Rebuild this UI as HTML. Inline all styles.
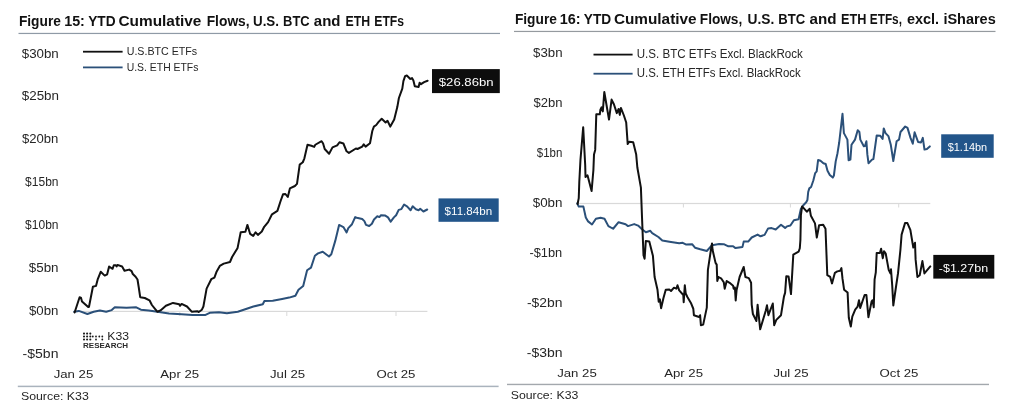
<!DOCTYPE html>
<html><head><meta charset="utf-8">
<style>
html,body{margin:0;padding:0;background:#fff;}
body{width:1024px;height:405px;overflow:hidden;}
svg{display:block;will-change:transform;font-family:"Liberation Sans", sans-serif;}
</style></head>
<body>
<svg width="1024" height="405" viewBox="0 0 1024 405">
<rect x="0" y="0" width="1024" height="405" fill="#fff"/>
<text transform="translate(18.90,25.60) scale(0.9820,0.9976)" font-size="14" font-weight="bold" fill="#111111">Figure</text>
<text transform="translate(64.20,25.60) scale(1.0232,0.9976)" font-size="14" font-weight="bold" fill="#111111">15:</text>
<text transform="translate(88.20,25.60) scale(0.9786,0.9976)" font-size="14" font-weight="bold" fill="#111111">YTD</text>
<text transform="translate(118.50,25.60) scale(1.0999,0.9976)" font-size="14" font-weight="bold" fill="#111111">Cumulative</text>
<text transform="translate(206.70,25.60) scale(0.9853,0.9976)" font-size="14" font-weight="bold" fill="#111111">Flows,</text>
<text transform="translate(253.00,25.60) scale(0.9548,0.9976)" font-size="14" font-weight="bold" fill="#111111">U.S.</text>
<text transform="translate(283.10,25.60) scale(0.9246,0.9976)" font-size="14" font-weight="bold" fill="#111111">BTC</text>
<text transform="translate(313.80,25.60) scale(1.0714,0.9976)" font-size="14" font-weight="bold" fill="#111111">and</text>
<text transform="translate(345.60,25.60) scale(0.8786,0.9976)" font-size="14" font-weight="bold" fill="#111111">ETH</text>
<text transform="translate(374.30,25.60) scale(0.8706,0.9976)" font-size="14" font-weight="bold" fill="#111111">ETFs</text>
<text transform="translate(514.90,23.75) scale(0.9820,1.0176)" font-size="14" font-weight="bold" fill="#111111">Figure</text>
<text transform="translate(559.80,23.75) scale(1.0331,1.0176)" font-size="14" font-weight="bold" fill="#111111">16:</text>
<text transform="translate(583.80,23.75) scale(0.9786,1.0176)" font-size="14" font-weight="bold" fill="#111111">YTD</text>
<text transform="translate(613.90,23.75) scale(1.0959,1.0176)" font-size="14" font-weight="bold" fill="#111111">Cumulative</text>
<text transform="translate(699.80,23.75) scale(0.9761,1.0176)" font-size="14" font-weight="bold" fill="#111111">Flows,</text>
<text transform="translate(747.60,23.75) scale(0.9842,1.0176)" font-size="14" font-weight="bold" fill="#111111">U.S.</text>
<text transform="translate(778.30,23.75) scale(0.9350,1.0176)" font-size="14" font-weight="bold" fill="#111111">BTC</text>
<text transform="translate(809.50,23.75) scale(1.0835,1.0176)" font-size="14" font-weight="bold" fill="#111111">and</text>
<text transform="translate(841.00,23.75) scale(0.9071,1.0176)" font-size="14" font-weight="bold" fill="#111111">ETH</text>
<text transform="translate(869.80,23.75) scale(0.8440,1.0176)" font-size="14" font-weight="bold" fill="#111111">ETFs,</text>
<text transform="translate(906.90,23.75) scale(1.0337,1.0176)" font-size="14" font-weight="bold" fill="#111111">excl.</text>
<text transform="translate(943.40,23.75) scale(1.0354,1.0176)" font-size="14" font-weight="bold" fill="#111111">iShares</text>
<rect x="18.5" y="32.85" width="481.5" height="1.2" fill="#8f9aa6"/>
<rect x="514" y="30.85" width="481.5" height="1.2" fill="#959a9f"/>
<text transform="translate(21.75,57.60) scale(1.1106,0.9893)" font-size="12" font-weight="normal" fill="#262626">$30bn</text>
<text transform="translate(21.75,100.46) scale(1.1166,0.9893)" font-size="12" font-weight="normal" fill="#262626">$25bn</text>
<text transform="translate(21.90,143.32) scale(1.0941,0.9893)" font-size="12" font-weight="normal" fill="#262626">$20bn</text>
<text transform="translate(25.10,186.18) scale(1.0012,0.9893)" font-size="12" font-weight="normal" fill="#262626">$15bn</text>
<text transform="translate(25.10,229.04) scale(1.0012,0.9893)" font-size="12" font-weight="normal" fill="#262626">$10bn</text>
<text transform="translate(28.80,271.90) scale(1.1161,0.9893)" font-size="12" font-weight="normal" fill="#262626">$5bn</text>
<text transform="translate(29.00,314.76) scale(1.1049,0.9893)" font-size="12" font-weight="normal" fill="#262626">$0bn</text>
<text transform="translate(22.60,357.62) scale(1.1686,0.9893)" font-size="12" font-weight="normal" fill="#262626">-$5bn</text>
<text transform="translate(533.10,56.90) scale(1.1049,0.9893)" font-size="12" font-weight="normal" fill="#262626">$3bn</text>
<text transform="translate(533.60,106.92) scale(1.0861,0.9893)" font-size="12" font-weight="normal" fill="#262626">$2bn</text>
<text transform="translate(536.80,156.94) scale(0.9551,0.9893)" font-size="12" font-weight="normal" fill="#262626">$1bn</text>
<text transform="translate(532.70,206.96) scale(1.1161,0.9893)" font-size="12" font-weight="normal" fill="#262626">$0bn</text>
<text transform="translate(529.40,256.98) scale(1.0710,0.9893)" font-size="12" font-weight="normal" fill="#262626">-$1bn</text>
<text transform="translate(526.90,307.00) scale(1.1589,0.9893)" font-size="12" font-weight="normal" fill="#262626">-$2bn</text>
<text transform="translate(526.80,357.02) scale(1.1654,0.9893)" font-size="12" font-weight="normal" fill="#262626">-$3bn</text>
<text transform="translate(53.67,377.90) scale(1.1000,0.9660)" font-size="12" font-weight="normal" fill="#262626">Jan 25</text>
<text transform="translate(160.26,377.90) scale(1.1000,0.9660)" font-size="12" font-weight="normal" fill="#262626">Apr 25</text>
<text transform="translate(269.98,377.90) scale(1.1000,0.9660)" font-size="12" font-weight="normal" fill="#262626">Jul 25</text>
<text transform="translate(376.56,377.90) scale(1.1000,0.9660)" font-size="12" font-weight="normal" fill="#262626">Oct 25</text>
<text transform="translate(557.17,376.90) scale(1.1000,0.9660)" font-size="12" font-weight="normal" fill="#262626">Jan 25</text>
<text transform="translate(664.16,376.90) scale(1.1000,0.9660)" font-size="12" font-weight="normal" fill="#262626">Apr 25</text>
<text transform="translate(773.38,376.90) scale(1.1000,0.9660)" font-size="12" font-weight="normal" fill="#262626">Jul 25</text>
<text transform="translate(879.56,376.90) scale(1.1000,0.9660)" font-size="12" font-weight="normal" fill="#262626">Oct 25</text>
<rect x="74" y="310.8" width="353.4" height="1.2" fill="#d9d9d9"/>
<rect x="179.3" y="311" width="1" height="5" fill="#d9d9d9"/>
<rect x="286.3" y="311" width="1" height="5" fill="#d9d9d9"/>
<rect x="395.5" y="311" width="1" height="5" fill="#d9d9d9"/>
<rect x="577" y="202.9" width="353.3" height="1.2" fill="#d9d9d9"/>
<rect x="682.9" y="203" width="1" height="4.5" fill="#d9d9d9"/>
<rect x="789.9" y="203" width="1" height="4.5" fill="#d9d9d9"/>
<rect x="898.2" y="203" width="1" height="4.5" fill="#d9d9d9"/>
<rect x="17.8" y="385.65" width="480.8" height="1.5" fill="#aab3bd"/>
<rect x="507" y="383.75" width="482" height="1.4" fill="#a3a8ad"/>
<text transform="translate(20.90,400.40) scale(1.0294,0.9660)" font-size="12" font-weight="normal" fill="#262626">Source: K33</text>
<text transform="translate(510.70,398.80) scale(1.0248,0.9311)" font-size="12" font-weight="normal" fill="#262626">Source: K33</text>
<rect x="83" y="50.8" width="39.6" height="1.8" fill="#111"/>
<rect x="83" y="66.5" width="39.6" height="1.8" fill="#2b5079"/>
<text transform="translate(126.70,55.10) scale(0.9696,0.9523)" font-size="11" font-weight="normal" fill="#262626">U.S.BTC ETFs</text>
<text transform="translate(126.70,70.80) scale(0.9474,0.9523)" font-size="11" font-weight="normal" fill="#262626">U.S. ETH ETFs</text>
<rect x="593.5" y="53.7" width="39.1" height="1.8" fill="#111"/>
<rect x="593.5" y="72.8" width="39.1" height="1.8" fill="#2b5079"/>
<text transform="translate(636.70,58.00) scale(0.9658,1.0009)" font-size="12" font-weight="normal" fill="#262626">U.S. BTC ETFs Excl. BlackRock</text>
<text transform="translate(636.70,76.60) scale(0.9548,1.0009)" font-size="12" font-weight="normal" fill="#262626">U.S. ETH ETFs Excl. BlackRock</text>
<polyline points="74.2,311.7 78.8,310.9 87.4,314 93.7,311.7 99.9,310.4 106.2,311.7 111.7,310.1 114.8,307.3 126.5,307.8 136.25,307.3 140.9,309.7 148.75,310.4 157.3,311.7 169,313.6 181.6,314.3 192.5,315.1 205,315.1 209.7,312.8 219,312.3 226.9,313.25 237.8,311.7 253.4,306.5 262.8,304.2 264.4,301 272.75,300.75 282.1,298.9 289.2,297.6 295.4,295.75 298.5,289.8 303.2,285.9 307.1,270.3 311,267.6 314.9,255.7 318,253.4 322.75,251.8 329,256.5 331.3,254.2 335.25,240.9 339.1,224.9 343.4,227.1 346.6,232.4 348.3,228.1 352,224.2 355.2,217.1 357.9,218.1 362.2,219 364.4,221.1 366,224.9 369.2,226 371.9,223.8 374,219.5 377.3,216.3 379.4,217.1 381,215.2 385.3,215.6 388,217.4 390.7,221.7 393.9,217.4 396.1,215.2 398.7,209.9 401.4,209.1 404.1,204.5 407.3,206.6 410.6,210.2 412.7,206.3 415.9,209.3 418.6,210.2 420.2,208.8 423.4,211.5 427.2,209.5" fill="none" stroke="#2b5079" stroke-width="2" stroke-linejoin="round" stroke-linecap="round"/>
<polyline points="74.6,312.5 79.6,297.3 80.9,297.6 82,301.5 88.2,307 89,306.7 92.9,286.7 96,285.9 97.6,279.7 100.7,271.8 104.7,275.6 107.1,274.4 109.1,266.5 112.6,268.8 113.8,265.3 115.8,265.3 116.6,266.5 117.4,264.9 122.1,266.5 124.5,270.8 129.2,269.6 131.6,271.2 132.8,274 135.6,276.7 137.5,279.5 138.7,287 140.2,297.2 144.8,298 149.5,300.3 151.9,305 155,308.9 157.3,311.7 160.5,310.4 165.9,305.75 173,302.9 179.2,304.2 180,305.75 181.6,303.9 187,306.5 191.7,311.7 197.2,311.2 198.75,312 201.9,309.7 203.4,306.5 206.6,288.6 211.25,279.2 214.4,277.6 216.7,271.4 219.8,265.9 223.75,263.6 230,262 232.1,257 237.6,247.9 240.7,232.3 245.4,231.8 247.4,224.9 250.1,233.8 253.2,235.9 255.6,232.3 257.9,234.9 261.8,231.5 264.2,226.8 268.1,222.1 272,214.3 277.4,210.9 280.6,201 283,194.3 285.4,194 287.8,197 289.9,188.4 294.9,186 297,183.9 299.7,164.6 302.8,162.25 304.4,158.3 307.5,144.75 311.4,145.8 314.2,146.9 315.3,144.75 321.6,141.2 323.1,143.5 324.7,149 329.1,153.7 332.5,147.4 337.2,145.4 339.5,142.25 343.4,143.5 346.6,151.3 348.9,152.9 355.9,148.5 357.5,149 362.2,146.6 363.75,144.3 365.6,146.6 370,143.2 372.3,131 373.9,126.6 376.25,125 378.6,121.9 381.7,118.8 385.6,122.4 387.5,120.8 390.3,126.6 394.2,119.6 397.3,107.1 398.9,98 402.3,88.7 403.4,81.1 405.1,76.2 406.8,75.5 410.3,79 412,78 413.4,80.4 414.8,86.25 418.6,86.9 419.6,82.8 421,84.2 424.1,82.1 427.6,80.7" fill="none" stroke="#111" stroke-width="2" stroke-linejoin="round" stroke-linecap="round"/>
<polyline points="577.2,203.4 578.75,206.6 583.4,206.6 585.8,217.5 588.1,221.4 592,224.5 595.9,218.75 600.6,217.8 604.5,218.75 608.4,226.1 613.1,228.75 618.6,222.2 625.6,224.2 628,226.1 634.2,224.1 638.1,225.6 642,229.2 645.9,232.3 650.3,230.8 652.2,233.1 658.4,237 662.3,240.6 669.4,241.7 679.2,243.2 682.7,242.8 686.25,244.6 692.1,244.2 695,247.7 700.3,249.3 706.8,251 712,245.2 719.1,244 723.75,244.2 728.4,246.3 733.1,246.3 735.5,248.1 742.5,246.9 743.7,241.6 748.2,241.6 751.7,237.5 757.6,234.6 760.5,236.3 764.6,234.9 768.1,228.4 771.6,228.1 775.7,229.5 781,224.8 785.1,227.9 786.9,226.4 790.4,225.5 793.9,220.2 798.6,219.3 800.9,208.8 803.3,205.3 806.2,202.3 807.4,200 808.2,192 809.3,188.4 811.1,187 813.4,180.2 815.2,173.1 816.7,171.4 818.1,160 820.5,160.8 823.4,163.2 825.7,164 827.5,170.8 829.8,174.9 832.8,177.6 833.9,175.5 835.7,161.4 837.5,153.2 839.2,142.5 842.5,113.8 843.9,133.1 847.4,139.6 848.6,160.2 850.4,159.6 851.5,144.8 855,139.6 857.7,130.2 859.4,132 860.3,139.6 863.8,146.2 865,146 866.4,141.3 867.35,154.4 868.5,163.2 872,159.6 873.4,159.1 876.7,135.5 880.2,135.7 882.6,139 883.75,128.4 885.5,133.1 888.4,136.1 890.8,144.8 893.3,161 896.6,141.3 899,139.6 900.5,132 905.2,126.5 907.5,127.9 910.5,137.85 912.8,143.7 914.6,132.3 918.1,142 921,142.5 922.8,137.85 924.5,149.6 926.9,149 929.8,146.4" fill="none" stroke="#2b5079" stroke-width="2" stroke-linejoin="round" stroke-linecap="round"/>
<polyline points="577.6,204 578.75,198.1 579.3,181.7 580.5,159.3 583.2,127.2 585.2,165.2 585.5,177 587.5,175.3 591.6,191.1 593.4,170 594,154.6 595.2,149.9 596.3,114.3 599.8,114.3 600.4,109.6 601.6,107.3 602.8,111.4 604.3,92 606.3,103.75 609,119.6 611.6,99.6 613.9,104.3 616.8,113.1 618.6,109 619.8,114.9 620.9,107.9 623.9,115.5 626.2,122.5 627.7,144.1 629.1,141.7 633.2,142.3 636.2,154.6 637.35,167.5 640.9,187.6 642,217 643.5,255.1 644.6,258.8 645.8,241.1 649.3,241.4 652.9,255.7 654.6,277 657.5,289.8 658.7,301.7 659.9,299.4 661.1,308.2 663.4,298.2 665.75,289.8 669.3,289.6 671,291 674,287.7 676.3,288.7 677.5,285.2 679.2,290.4 683.3,295 683.7,302.3 684.8,285.2 685.7,293.4 687.4,297 690.9,302.9 693.3,308.75 693.9,315.2 699.1,317 700.1,315.2 700.9,325.2 703.2,324.6 706.8,307.6 707.9,269.9 710.9,250 712,243.4 712.6,250 715.55,262.9 716.7,264.65 717.3,281 718.5,277 721.4,278.7 723.75,282.2 724.7,288.7 726.7,281 729.6,282.8 733.1,285.7 733.7,288.7 734.9,287.5 735.7,300.5 736.6,290 739.6,277 743.7,267 745.4,277 748.8,278.1 751.1,282.8 751.7,304.6 752.9,314 756.4,321 757.6,304.7 760.2,329.3 765.8,310.5 767,305.3 768.4,315.2 772.8,303.5 774.2,325.2 776.3,319.9 781,315.2 783.4,300 784,296.4 785.1,292.9 786.3,276.3 788.6,276.6 791,294.1 793.3,254.65 798.6,251.7 799.8,248.2 800.4,240 800.9,215.2 802.1,206.4 806.8,211.7 809.7,208.8 810.9,215.8 815,223.4 816.8,237.5 819.1,225.2 823.2,224.85 825.5,228.7 827.3,275.2 830.2,276.9 832,283.4 834.9,272.8 837.3,271.4 840.2,270.7 841.4,268.1 842.5,278.7 844.1,289.7 847.6,292.6 848.8,317.8 850.8,326.5 852.3,316.6 855.2,309.6 857.6,306.7 859,300.2 860.2,307.9 864.6,295 866.4,295 868.4,317.2 871.6,301.4 872.6,300.2 873.75,307.3 874.6,279.3 875.8,272.3 876.7,252.9 879.9,252.9 881.1,248.7 882.8,258.2 884,251.2 885.7,253.5 888.7,269.9 890.4,273.4 891,269.3 892.2,285.2 893.3,305.5 896.25,285 898,273.4 900.4,250 901.6,234.6 905.1,222.9 907.4,223.1 910.35,229.9 913.3,247.5 915,242.8 915.6,259.4 917.4,277 919.7,275.2 922.4,261.1 924.4,273.4 930.3,266.4" fill="none" stroke="#111" stroke-width="2" stroke-linejoin="round" stroke-linecap="round"/>
<rect x="432.0" y="69.1" width="67.8" height="24.0" fill="#0d0d0d"/><text transform="translate(438.80,86.20) scale(1.0951,0.9777)" font-size="12" font-weight="normal" fill="#ffffff">$26.86bn</text>
<rect x="438.5" y="198.4" width="60.2" height="23.4" fill="#22558a"/><text transform="translate(444.60,214.70) scale(0.9687,0.9777)" font-size="12" font-weight="normal" fill="#ffffff">$11.84bn</text>
<rect x="941.2" y="134.3" width="52.5" height="23.5" fill="#22558a"/><text transform="translate(947.70,151.30) scale(0.9106,0.9777)" font-size="12" font-weight="normal" fill="#ffffff">$1.14bn</text>
<rect x="933.3" y="254.9" width="61.0" height="23.7" fill="#0d0d0d"/><text transform="translate(938.80,271.90) scale(1.0422,0.9777)" font-size="12" font-weight="normal" fill="#ffffff">-$1.27bn</text>
<circle cx="84.0" cy="333.6" r="1.05" fill="#1a1a1a"/>
<circle cx="84.0" cy="336.5" r="1.05" fill="#1a1a1a"/>
<circle cx="84.0" cy="339.5" r="1.05" fill="#1a1a1a"/>
<circle cx="87.1" cy="333.6" r="1.05" fill="#1a1a1a"/>
<circle cx="87.1" cy="336.5" r="1.05" fill="#1a1a1a"/>
<circle cx="87.1" cy="339.5" r="1.05" fill="#1a1a1a"/>
<circle cx="90.3" cy="333.6" r="1.05" fill="#1a1a1a"/>
<circle cx="90.3" cy="336.5" r="1.05" fill="#1a1a1a"/>
<circle cx="90.3" cy="339.5" r="1.05" fill="#1a1a1a"/>
<circle cx="92.8" cy="336.5" r="0.9" fill="#1a1a1a"/>
<circle cx="96" cy="336.5" r="0.9" fill="#1a1a1a"/>
<circle cx="96" cy="339.5" r="0.9" fill="#1a1a1a"/>
<circle cx="99.3" cy="336.5" r="0.9" fill="#1a1a1a"/>
<circle cx="102.3" cy="336.5" r="0.9" fill="#1a1a1a"/>
<circle cx="102.3" cy="339.5" r="0.9" fill="#1a1a1a"/>
<text transform="translate(107.30,340.20) scale(1.1083,1.0157)" font-size="11" font-weight="normal" fill="#222">K33</text>
<text transform="translate(83.00,348.10) scale(1.1485,0.9377)" font-size="7" font-weight="bold" fill="#2a2a2a">RESEARCH</text>
</svg>
</body></html>
